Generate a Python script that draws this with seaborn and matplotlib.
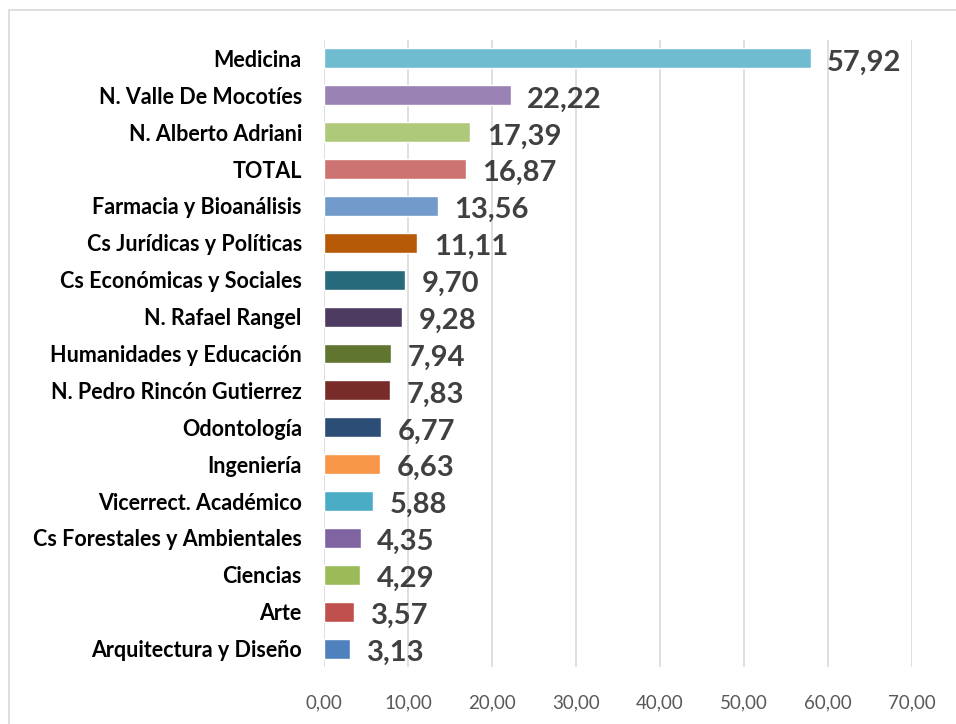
import matplotlib
matplotlib.use("Agg")
import matplotlib.pyplot as plt
import seaborn as sns
import pandas as pd
from matplotlib.patches import Rectangle

# Datos
categorias = ["Medicina", "N. Valle De Mocotíes", "N. Alberto Adriani", "TOTAL",
              "Farmacia y Bioanálisis", "Cs Jurídicas y Políticas", "Cs Económicas y Sociales",
              "N. Rafael Rangel", "Humanidades y Educación", "N. Pedro Rincón Gutierrez",
              "Odontología", "Ingeniería", "Vicerrect. Académico", "Cs Forestales y Ambientales",
              "Ciencias", "Arte", "Arquitectura y Diseño"]
valores = [57.92, 22.22, 17.39, 16.87, 13.56, 11.11, 9.70, 9.28, 7.94, 7.83,
           6.77, 6.63, 5.88, 4.35, 4.29, 3.57, 3.13]
colores = ["#6FBBD0", "#9A82B5", "#AFC97A", "#CD7371", "#729ACA", "#B75A07", "#276A7C",
           "#4E3B62", "#5F7530", "#772C2A", "#2C4D75", "#F79646", "#4BACC6", "#8064A2",
           "#9BBB59", "#C0504D", "#4F81BD"]
x_ticks = [0, 10, 20, 30, 40, 50, 60, 70]

df = pd.DataFrame({"categoria": categorias, "valor": valores})

sns.set_style("white")
plt.rcParams["font.family"] = ["Lato", "DejaVu Sans"]

fig = plt.figure(figsize=(9.56, 7.24), dpi=100)
ax = fig.add_axes([324 / 956, 1 - 667 / 724, (912 - 324) / 956, (667 - 40) / 724])

sns.barplot(data=df, x="valor", y="categoria", hue="categoria", palette=colores,
            legend=False, width=0.54, saturation=1, ax=ax)

# Etiquetas de valores
for i, v in enumerate(valores):
    ax.annotate(f"{v:.2f}".replace(".", ","), xy=(v, i), xytext=(12, -3),
                textcoords="offset points", va="center", ha="left",
                fontsize=21, fontweight="bold", color="#404040")

ax.set_xlim(0, 70)
ax.set_ylim(16.5, -0.5)
ax.set_xticks(x_ticks)
ax.set_xticklabels([f"{t:.2f}".replace(".", ",") for t in x_ticks], fontsize=13.5, color="#595959")
ax.tick_params(axis="x", length=0, pad=20)
ax.tick_params(axis="y", length=0, pad=16, labelsize=15.5)
for lbl in ax.get_yticklabels():
    lbl.set_fontweight("bold")
    lbl.set_color("black")
ax.set_xlabel("")
ax.set_ylabel("")
ax.grid(axis="x", color="#D9D9D9", linewidth=1.2)
ax.set_axisbelow(True)
for s in ax.spines.values():
    s.set_visible(False)

# Borde del gráfico
fig.patches.append(Rectangle((9 / 956, -0.1), 1.2, 1.1 - 10 / 724,
                             transform=fig.transFigure, fill=False,
                             edgecolor="#D9D9D9", linewidth=1.2))

fig.savefig("out.png", dpi=100)
